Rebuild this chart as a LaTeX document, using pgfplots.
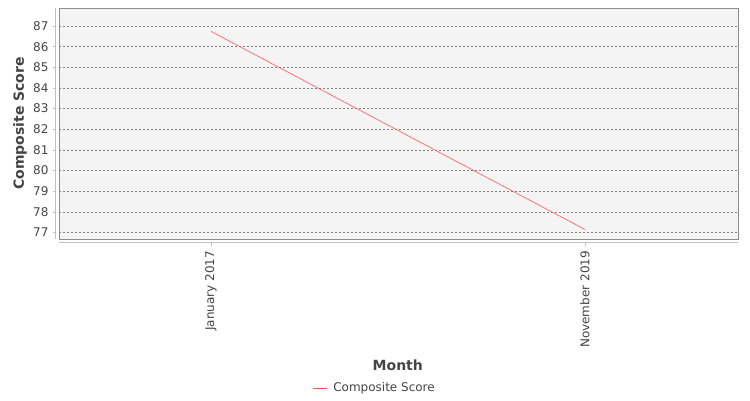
\documentclass[border=0pt]{standalone}
\usepackage{pgfplots}
\pgfplotsset{compat=1.18}
\usepackage{fontspec}
\setmainfont{DejaVu Sans}
\definecolor{serieRed}{RGB}{255,85,85}
\definecolor{plotBg}{RGB}{244,244,244}
\definecolor{txtGray}{RGB}{68,68,68}
\definecolor{axGray}{RGB}{192,192,192}
\definecolor{gridGray}{RGB}{128,128,128}
\begin{document}
\begin{tikzpicture}[x=1pt,y=1pt]
  \path[use as bounding box] (0,0) rectangle (750,400);
  \begin{axis}[
    at={(59pt,161pt)}, anchor=south west,
    width=679pt, height=231pt, scale only axis,
    axis background/.style={fill=plotBg},
    axis line style={draw=gray!90},
    xmin=-0.406, xmax=1.409,
    ymin=76.69, ymax=87.87,
    xtick={0,1},
    xticklabels={January 2017,November 2019},
    x tick label style={rotate=90, anchor=east, font=\fontsize{12}{14}\selectfont, text=txtGray},
    xticklabel shift=8.5pt,
    ytick={77,78,...,87},
    y tick label style={font=\fontsize{12}{14}\selectfont, text=txtGray},
    yticklabel shift=7pt,
    /pgf/number format/assume math mode=true,
    major tick length=0pt,
    ymajorgrids,
    grid style={draw=gridGray, dash pattern=on 2pt off 2pt, line width=0.5pt},
    xlabel={\bfseries Month},
    ylabel={\bfseries Composite Score},
    label style={font=\fontsize{14}{16}\selectfont, text=txtGray},
    xlabel style={at={(axis description cs:0.499,-0.545)}, anchor=center},
    ylabel style={at={(axis description cs:-0.0574,0.5)}, anchor=center},
    legend style={at={(axis description cs:0.465,-0.645)}, anchor=center,
      draw=none, fill=none, font=\fontsize{12}{14}\selectfont, text=txtGray,
      inner sep=0pt},
    legend cell align=left,
    legend image code/.code={\draw[#1] (0pt,0pt) -- (14pt,0pt); \path (18pt,0pt);},
    clip=false,
  ]
    \addplot[serieRed, line width=0.6pt, mark=none] coordinates {
      (0, 86.74)
      (1, 77.15)
    };
    \addlegendentry{Composite Score}
    % category axis line below the plot, y axis line to its left
    \draw[axGray, line width=0.8pt] ([yshift=-3.5pt]rel axis cs:0,0) -- ([yshift=-3.5pt]rel axis cs:1,0);
    \draw[axGray, line width=0.8pt] ([xshift=-3.5pt]rel axis cs:0,0) -- ([xshift=-3.5pt]rel axis cs:0,1);
    \pgfplotsinvokeforeach{0,1}{
      \draw[axGray, line width=0.6pt] ([yshift=-3.5pt]axis cs:#1,76.69) -- ([yshift=-6.5pt]axis cs:#1,76.69);
    }
    \pgfplotsinvokeforeach{77,78,...,87}{
      \draw[axGray, line width=0.6pt] ([xshift=-3.5pt]axis cs:-0.406,#1) -- ([xshift=-6.5pt]axis cs:-0.406,#1);
    }
  \end{axis}
\end{tikzpicture}
\end{document}
